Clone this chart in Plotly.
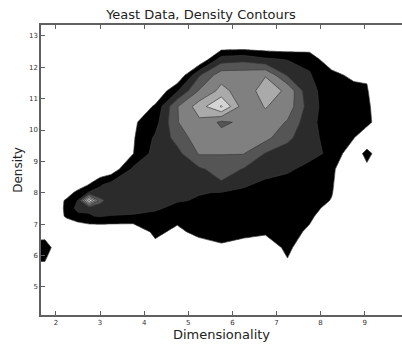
import plotly.graph_objects as go

# grid nodes (Dimensionality, Density)
x_nodes = [1.25, 1.75, 2.25, 2.5, 2.75, 3.0, 3.25, 3.75, 4.25, 4.75, 5.25, 5.75,
           6.25, 6.75, 7.25, 7.75, 8.25, 8.75, 9.05, 9.45, 9.85, 10.25]
y_nodes = [4.25, 4.75, 5.25, 5.75, 6.25, 6.75, 7.25, 7.5, 7.75, 8.0, 8.25, 8.75,
           9.25, 9.75, 10.25, 10.75, 11.25, 11.75, 12.25, 12.75, 13.25]

# estimated density values, one list per Density row
z_425 = [0] * 22
z_475 = [0] * 22
z_525 = [0] * 22
z_575 = [0.95, 0.95, 0, 0, 0, 0, 0, 0, 0, 0, 0, 0, 0, 0, 0.85, 0, 0, 0, 0, 0, 0, 0]
z_625 = [1.3, 1.4, 0, 0, 0, 0, 0, 0, 0.6, 0, 0.3, 0.8, 0.55, 0.2, 1.3, 0, 0, 0, 0, 0, 0, 0]
z_675 = [0.6, 0.6, 0, 0, 0, 0, 0, 0, 1.3, 0.7, 1.4, 1.5, 1.3, 1.2, 1.4, 0.81, 0, 0, 0, 0, 0, 0]
z_725 = [0, 0, 1.15, 1.6, 1.97, 2.03, 1.95, 1.9, 1.6, 1.4, 1.35, 1.35, 1.3, 1.3, 1.25, 1.2, 0.3, 0, 0, 0, 0, 0]
z_750 = [0, 0, 1.2, 2.4, 2.05, 2.5, 2.4, 2.3, 2.2, 1.6, 1.6, 1.5, 1.45, 1.45, 1.4, 1.3, 0.7, 0, 0, 0, 0, 0]
z_775 = [0, 0, 1.16, 2.05, 7.3, 3.3, 2.5, 2.45, 2.35, 2.1, 1.9, 1.8, 1.6, 1.5, 1.5, 1.4, 0.96, 0, 0, 0, 0, 0]
z_800 = [0, 0, 0.6, 1.3, 2.1, 2.3, 2.45, 2.55, 2.6, 2.5, 2.05, 1.95, 1.75, 1.6, 1.5, 1.4, 1.05, 0, 0, 0, 0, 0]
z_825 = [0, 0, 0, 0.5, 1.05, 1.9, 2.4, 2.6, 2.65, 2.7, 2.75, 2.85, 2.15, 1.7, 1.6, 1.5, 1.1, 0, 0, 0, 0, 0]
z_875 = [0, 0, 0, 0, 0, 0, 0.3, 2.2, 2.5, 2.6, 2.85, 3.4, 2.95, 2.5, 2.15, 1.7, 1.2, 0, 0.7, 0, 0, 0]
z_925 = [0, 0, 0, 0, 0, 0, 0, 0.97, 2.4, 2.7, 4.1, 4.05, 4.05, 2.95, 2.6, 2.3, 1.8, 0.2, 1.4, 0, 0, 0]
z_975 = [0, 0, 0, 0, 0, 0, 0, 0.9, 2.15, 3.36, 4.6, 4.36, 4.4, 4.3, 3.2, 2.4, 1.5, 1.05, 0, 0, 0, 0]
z_1025 = [0, 0, 0, 0, 0, 0, 0, 0.85, 1.6, 3.95, 4.8, 3.8, 4.2, 4.7, 3.9, 2.3, 1.4, 1.5, 1.38, 0, 0, 0]
z_1075 = [0, 0, 0, 0, 0, 0, 0, 0, 1.16, 3.95, 5.5, 7.1, 4.475, 5.05, 4.6, 2.5, 1.31, 1.63, 1.25, 0, 0, 0]
z_1125 = [0, 0, 0, 0, 0, 0, 0, 0, 0, 1.9, 4.1, 5.3, 4.5, 5.4, 4.85, 2.13, 1.77, 1.6, 1.08, 0, 0, 0]
z_1175 = [0, 0, 0, 0, 0, 0, 0, 0, 0, 0, 2.9, 4.6, 4.6, 4.95, 2.9, 2.05, 1.5, 0.6, 0.9, 0, 0, 0]
z_1225 = [0, 0, 0, 0, 0, 0, 0, 0, 0, 0, 0, 2.5, 2.7, 2.2, 1.95, 1.85, 0, 0, 0, 0, 0, 0]
z_1275 = [0] * 22
z_1325 = [0] * 22

z_rows = [z_425, z_475, z_525, z_575, z_625, z_675, z_725, z_750, z_775, z_800, z_825,
          z_875, z_925, z_975, z_1025, z_1075, z_1125, z_1175, z_1225, z_1275, z_1325]

x_ticks = [2, 3, 4, 5, 6, 7, 8, 9]
y_ticks = [5, 6, 7, 8, 9, 10, 11, 12, 13]

# gray colormap: background, then one shade per contour band
band_colors = ['#ffffff', '#000000', '#2b2b2b', '#555555', '#808080', '#aaaaaa', '#d4d4d4', '#ffffff']
n = len(band_colors) - 1
colorscale = []
for k, c in enumerate(band_colors):
    lo = max(0.0, (k - 0.5) / n)
    hi = min(1.0, (k + 0.5) / n)
    colorscale.append([lo, c])
    colorscale.append([hi, c])

fig = go.Figure(go.Contour(
    x=x_nodes, y=y_nodes, z=z_rows,
    autocontour=False,
    contours=dict(start=1, end=7, size=1, coloring='fill', showlines=True),
    line=dict(color='#3a3a3a', width=0.7, smoothing=0),
    colorscale=colorscale, showscale=False, hoverinfo='skip',
))

axis_color = '#606060'
fig.update_layout(
    width=402, height=344,
    margin=dict(l=41, r=0, t=25, b=29),
    paper_bgcolor='white', plot_bgcolor='white',
    font=dict(family='DejaVu Sans', color='#222222'),
    title=dict(text='Yeast Data, Density Contours', x=0.5, xanchor='center',
               y=1 - 14 / 344, yanchor='middle', yref='container',
               font=dict(size=13, family='DejaVu Sans', color='#222222')),
    xaxis=dict(range=[1.66, 9.846], tickvals=x_ticks, ticks='inside', ticklen=4,
               tickcolor=axis_color, showline=True, linecolor=axis_color, linewidth=1.5,
               mirror='ticks', showgrid=False, zeroline=False,
               tickfont=dict(size=7, color='#333333'),
               title=dict(text='Dimensionality', font=dict(size=13), standoff=2)),
    yaxis=dict(range=[4.1, 13.35], tickvals=y_ticks, ticks='inside', ticklen=4,
               tickcolor=axis_color, showline=True, linecolor=axis_color, linewidth=1.5,
               showgrid=False, zeroline=False,
               tickfont=dict(size=7, color='#333333'),
               title=dict(text='Density', font=dict(size=12), standoff=4)),
)

fig.write_html('out.html')
